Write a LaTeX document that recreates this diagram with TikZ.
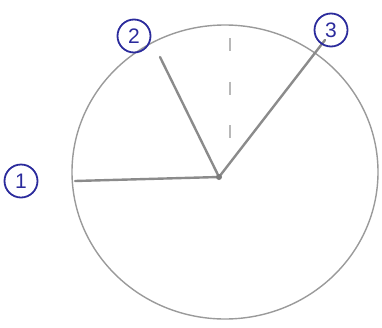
\documentclass[tikz,border=0pt]{standalone}
\usepackage{fontspec}
\setmainfont{Liberation Sans}
\definecolor{pencil}{HTML}{9A9A9A}
\definecolor{ink}{HTML}{2B2B9C}
\begin{document}
\begin{tikzpicture}[x=1pt,y=-1pt,
  rim/.style={draw=pencil,line width=1.4pt},
  radius/.style={draw=pencil!90!black,line width=2.4pt,line cap=round},
  guide/.style={draw=pencil!70,line width=1.6pt,dash pattern=on 13pt off 30.5pt},
  tag/.style={circle,draw=ink,line width=1.8pt,text=ink,inner sep=0pt,minimum size=33pt,font=\fontsize{21}{21}\selectfont}]
\useasboundingbox (0,0) rectangle (382,327);
\draw[rim] (225,172) ellipse [x radius=153, y radius=147];
\coordinate (c) at (219,177);
\coordinate (p1) at (75,181);
\coordinate (p2) at (160,57);
\coordinate (p3) at (325,40);
\coordinate (g1) at (230,38);
\coordinate (g2) at (230,138);
\draw[radius] (p1) -- (c);
\draw[radius] (p2) -- (c);
\draw[radius] (p3) -- (c);
\fill[pencil!80!black] (c) circle (3pt);
\draw[guide] (g1) -- (g2);
\node[tag] (t1) at (21,181) {1};
\node[tag] (t2) at (134,36) {2};
\node[tag] (t3) at (331,30) {3};
\end{tikzpicture}
\end{document}
